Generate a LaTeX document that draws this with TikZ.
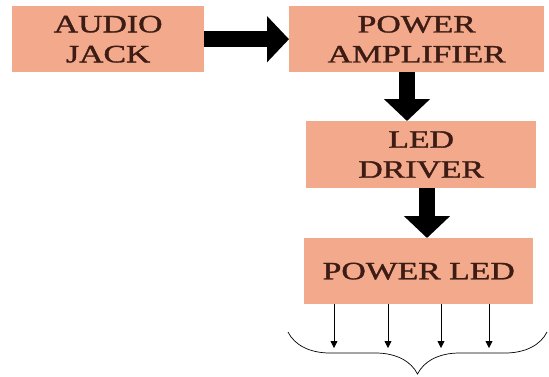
\documentclass[tikz,border=0pt]{standalone}
\usepackage{fontspec}
\setmainfont{Liberation Serif}
\newfontfamily\boxfont[FakeBold=1.2]{Liberation Serif}
\usetikzlibrary{arrows.meta,decorations.pathreplacing}
\definecolor{boxfill}{RGB}{243,170,140}
\definecolor{boxtext}{RGB}{60,28,20}
\newcommand{\wtxt}[1]{\scalebox{1.35}[1]{#1}}
\tikzset{
  blk/.style={rectangle, fill=boxfill, inner sep=0pt, anchor=north west,
    text=boxtext, font=\boxfont\fontsize{25}{30}\selectfont, align=center},
  bigarrow/.style={line width=16pt, -{Triangle[width=45pt,length=22pt]}},
  smallarrow/.style={line width=0.8pt, -{Triangle[width=7pt,length=7pt]}}
}
\begin{document}
\begin{tikzpicture}[x=1pt,y=-1pt]
\useasboundingbox (0,0) rectangle (549,376);
\node[blk, minimum width=192pt, minimum height=66pt] (aj) at (12,6) {\wtxt{AUDIO}\\\wtxt{JACK}};
\node[blk, minimum width=255pt, minimum height=66pt] (pa) at (289,6) {\wtxt{POWER}\\\wtxt{AMPLIFIER}};
\node[blk, minimum width=230pt, minimum height=67pt] (ld) at (306,121) {\wtxt{LED}\\\wtxt{DRIVER}};
\node[blk, minimum width=229pt, minimum height=66pt] (pl) at (304,238) {\wtxt{POWER LED}};
\draw[bigarrow] (aj.east) -- (pa.west);
\draw[bigarrow] (pa.south -| 407,0) -- (ld.north -| 407,0);
\draw[bigarrow] (ld.south -| 427,0) -- (pl.north -| 427,0);
\coordinate (t1) at (334,348);
\coordinate (t2) at (388,348);
\coordinate (t3) at (441,348);
\coordinate (t4) at (489,348);
\foreach \i in {1,2,3,4} \draw[smallarrow] (pl.south -| t\i) -- (t\i);
\coordinate (bl) at (288,332);
\coordinate (br) at (547,332);
\draw[line width=0.7pt, decorate, decoration={brace, mirror, amplitude=42pt}] (bl) -- (br);
\end{tikzpicture}
\end{document}
